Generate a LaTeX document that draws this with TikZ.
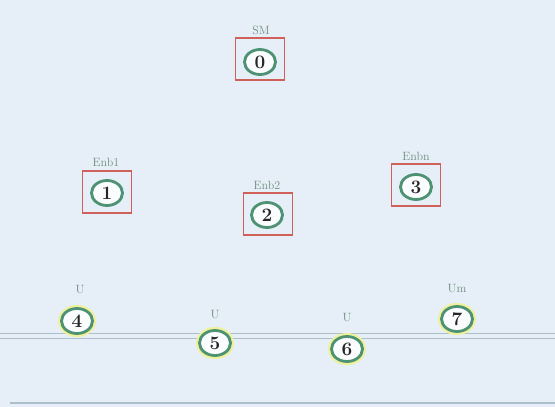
\documentclass[tikz,border=0pt]{standalone}
\usetikzlibrary{shapes.geometric}
\definecolor{bg}{HTML}{E6EFF7}
\definecolor{ring}{HTML}{4E9274}
\definecolor{boxred}{HTML}{D0605A}
\definecolor{lbl}{HTML}{6F8F80}
\definecolor{glow}{HTML}{EEF09A}
\definecolor{linec}{HTML}{AEBFCC}
\tikzset{
  x=1pt, y=-1pt,
  enode/.style={ellipse, draw=ring, line width=2.8pt, fill=white!80!bg, minimum width=31pt, minimum height=25pt, inner sep=0pt, font=\fontsize{19}{19}\selectfont\bfseries, text=black!85},
  unode/.style={enode, preaction={draw=glow, line width=7pt}},
  rbox/.style={draw=boxred, line width=1.6pt, minimum width=49pt, minimum height=42pt, inner sep=0pt},
  lab/.style={font=\fontsize{12}{12}\selectfont, text=lbl, inner sep=0pt},
  sep/.style={draw=linec, line width=1pt}
}
\begin{document}
\begin{tikzpicture}
\fill[bg] (0,0) rectangle (555,407);
\useasboundingbox (0,0) rectangle (555,407);
% separator lines
\coordinate (l1a) at (0,333); \coordinate (l1b) at (555,333);
\coordinate (l2a) at (0,338); \coordinate (l2b) at (555,338);
\coordinate (l3a) at (10,403); \coordinate (l3b) at (555,403);
\draw[sep] (l1a) -- (l1b);
\draw[sep] (l2a) -- (l2b);
\draw[sep, line width=1.4pt] (l3a) -- (l3b);
% boxes
\node[rbox] (b0) at (260,59) {};
\node[rbox] (b1) at (107,192) {};
\node[rbox] (b2) at (268,214) {};
\node[rbox] (b3) at (416,185) {};
% nodes
\node[enode] (n0) at (260,62) {0};
\node[enode] (n1) at (107,193) {1};
\node[enode] (n2) at (267,215) {2};
\node[enode] (n3) at (416,187) {3};
\node[unode] (n4) at (77,321) {4};
\node[unode] (n5) at (215,343) {5};
\node[unode] (n6) at (347,349) {6};
\node[unode] (n7) at (457,319) {7};
% labels
\node[lab] (t0) at (261,30) {SM};
\node[lab] (t1) at (106,162) {Enb1};
\node[lab] (t2) at (267,185) {Enb2};
\node[lab] (t3) at (416,156) {Enbn};
\node[lab] (t4) at (80,290) {U};
\node[lab] (t5) at (215,315) {U};
\node[lab] (t6) at (347,318) {U};
\node[lab] (t7) at (457,289) {Um};
\end{tikzpicture}
\end{document}
